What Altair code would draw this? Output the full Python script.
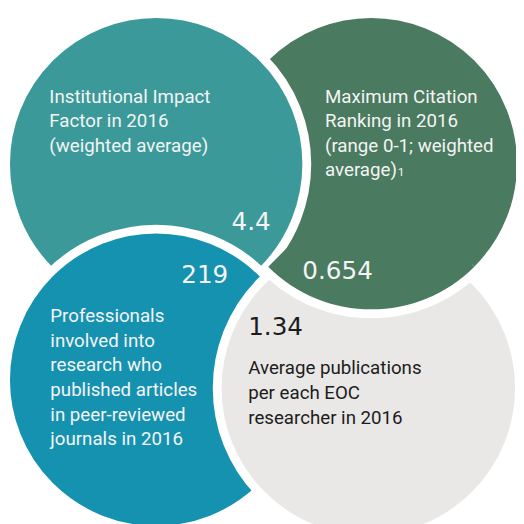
import math
import altair as alt
import pandas as pd

# ---------------- data ----------------
metric_values = ["4.4", "0.654", "219", "1.34"]
metric_labels = [
    ["Institutional Impact", "Factor in 2016", "(weighted average)"],
    ["Maximum Citation", "Ranking in 2016", "(range 0-1; weighted", "average)"],
    ["Professionals", "involved into", "research who", "published articles",
     "in peer-reviewed", "journals in 2016"],
    ["Average publications", "per each EOC", "researcher in 2016"],
]
footnote_mark = "1"
circle_colors = ["#3b9a99", "#4a7a5f", "#1692b1", "#e9e8e7"]
text_colors = ["#f4f4f4", "#f4f4f4", "#f4f4f4", "#1c1c1c"]

# ---------------- layout (pixels of the page) ----------------
cx = [158.5, 377, 158.5, 374]
cy = [162.5, 162, 381.5, 390]
fill_r = [148.5, 148, 148.5, 149]
GAP = 9
draw_order = [1, 0, 2, 3]          # green, teal, blue, gray
label_x = [50, 330, 51, 252]
label_y0 = [100, 100, 323, 376]
LINE = 25
value_x = [235, 307, 184, 252]
value_y = [229, 279, 283, 336]
foot_x, foot_y = 404, 175

circles = pd.DataFrame([
    {"x": cx[i], "y": cy[i], "size": (2 * (fill_r[i] + GAP / 2)) ** 2, "color": circle_colors[i]}
    for i in draw_order
])
# green circle's lower rim lies over the grey one
R_out = fill_r[1] + GAP
overlay_ring = pd.DataFrame([
    {"x": cx[1], "y": cy[1], "size": (2 * R_out) ** 2, "color": "#ffffff"},
])
overlay_fill = pd.DataFrame([
    {"x": cx[1], "y": cy[1], "size": (2 * fill_r[1]) ** 2, "color": circle_colors[1]},
])
labels = pd.DataFrame([
    {"x": label_x[i], "y": label_y0[i] + j * LINE, "text": t, "color": text_colors[i]}
    for i in range(4) for j, t in enumerate(metric_labels[i])
])
values = pd.DataFrame([
    {"x": value_x[i], "y": value_y[i], "text": metric_values[i], "color": text_colors[i]}
    for i in range(4)
])
foot = pd.DataFrame([{"x": foot_x, "y": foot_y, "text": footnote_mark, "color": text_colors[1]}])

X = alt.X("x:Q", scale=alt.Scale(domain=[8, 524], range=[0, 516], nice=False, zero=False), axis=None)
Y = alt.Y("y:Q", scale=alt.Scale(domain=[8, 524], range=[0, 516], nice=False, zero=False), axis=None)
C = alt.Color("color:N", scale=None)
S = alt.Size("size:Q", scale=None)
F = alt.Fill("color:N", scale=None)

circ = alt.Chart(circles).mark_point(
    shape="circle", filled=True, opacity=1, stroke="white", strokeWidth=GAP
).encode(x=X, y=Y, size=S, fill=F)

a = math.sqrt(0.5)
k = (fill_r[1] - 3) / R_out          # inner radius of the white rim (unit)
ring = (f"M{a:.4f},{a:.4f} A1,1 0 0,1 {-a:.4f},{a:.4f} "
        f"L{-a*k:.4f},{a*k:.4f} A{k:.4f},{k:.4f} 0 0,0 {a*k:.4f},{a*k:.4f} Z")
wedge = f"M0,0 L{a:.4f},{a:.4f} A1,1 0 0,1 {-a:.4f},{a:.4f} Z"

over_ring = alt.Chart(overlay_ring).mark_point(
    shape=ring, filled=True, opacity=1, strokeWidth=0
).encode(x=X, y=Y, size=S, fill=F)
over_fill = alt.Chart(overlay_fill).mark_point(
    shape=wedge, filled=True, opacity=1, strokeWidth=0
).encode(x=X, y=Y, size=S, fill=F)

lab = alt.Chart(labels).mark_text(
    align="left", baseline="alphabetic", font="Roboto", fontSize=19
).encode(x=X, y=Y, text="text:N", color=C)

val = alt.Chart(values).mark_text(
    align="left", baseline="alphabetic", font="DejaVu Sans", fontSize=25
).encode(x=X, y=Y, text="text:N", color=C)

ft = alt.Chart(foot).mark_text(
    align="left", baseline="alphabetic", font="Roboto", fontSize=12
).encode(x=X, y=Y, text="text:N", color=C)

chart = alt.layer(circ, over_ring, over_fill, lab, val, ft).properties(
    width=516, height=516, padding=0, autosize="none", background="white"
).configure_view(stroke=None)

chart.save("out.html", embed_options={"renderer": "svg", "actions": False})
